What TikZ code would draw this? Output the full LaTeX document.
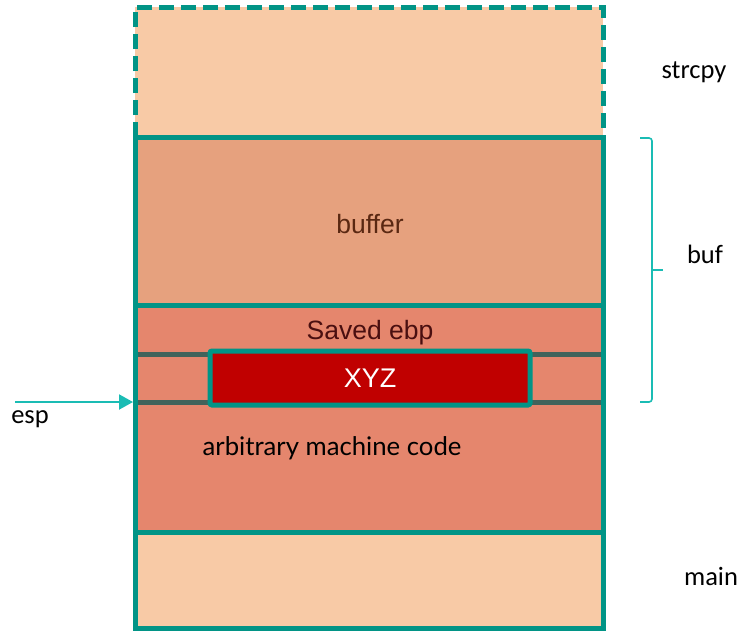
\documentclass[tikz,border=0pt]{standalone}
\usepackage{fontspec}
\setmainfont{Carlito}
\newfontfamily\arialfont{Liberation Sans}
\newfontfamily\latofont{Lato}
\usetikzlibrary{arrows.meta}

\definecolor{frameteal}{HTML}{019486}
\definecolor{lightpeach}{HTML}{F8CAA6}
\definecolor{bufferfill}{HTML}{E6A17E}
\definecolor{framefill}{HTML}{E5866D}
\definecolor{slotgray}{HTML}{41635B}
\definecolor{xyzred}{HTML}{C00000}
\definecolor{pointercyan}{HTML}{1ABCB4}
\definecolor{buffertext}{HTML}{5A2812}
\definecolor{ebptext}{HTML}{4A0F10}

\tikzset{
    stackline/.style = {draw = frameteal, line width = 5pt},
    slotline/.style  = {draw = slotgray, line width = 5pt},
    sidelabel/.style = {font = \fontsize{26.5}{30}\selectfont, inner sep = 0pt},
    boxlabel/.style  = {font = \arialfont\fontsize{26.5}{30}\selectfont, inner sep = 0pt},
    pointer/.style   = {draw = pointercyan, line width = 2pt,
                        -{Triangle[length = 14pt, width = 15pt]}},
    bracket/.style   = {draw = pointercyan, line width = 1.6pt, rounded corners = 3pt}
}

\begin{document}
\begin{tikzpicture}[x = 1pt, y = -1pt]
    \useasboundingbox (0,0) rectangle (743,630);

    % strcpy frame (dashed)
    \fill[lightpeach] (135,7) rectangle (603,137);
    \draw[stackline, dash pattern = on 15pt off 7pt] (135,137) -- (135,7) -- (603,7) -- (603,137);

    % buffer, saved ebp, return address, rest of frame
    \fill[bufferfill] (135,137) rectangle (603,305);
    \fill[framefill]  (135,305) rectangle (603,532);
    \fill[lightpeach] (135,532) rectangle (603,628);

    \draw[slotline] (135,354) -- (603,354);
    \draw[slotline] (135,402) -- (603,402);

    \draw[stackline] (135,305) -- (603,305);
    \draw[stackline] (135,532) -- (603,532);
    \draw[stackline] (135,137) rectangle (603,628);

    % overwritten return address
    \node[draw = frameteal, line width = 5pt, fill = xyzred, rounded corners = 2pt,
          minimum width = 320pt, minimum height = 54pt, inner sep = 0pt,
          text = white, font = \arialfont\fontsize{27}{30}\selectfont]
          (xyz) at (370,378) {XYZ};

    \node[boxlabel, text = buffertext] (bufferlbl) at (370,224) {buffer};
    \node[boxlabel, text = ebptext] (ebplbl) at (370,333) {Saved ebp};
    \node[font = \latofont\fontsize{25.7}{30}\selectfont, inner sep = 0pt]
          (codelbl) at (332,448) {arbitrary machine code};

    % side labels
    \node[sidelabel] (strcpylbl) at (694,72)  {strcpy};
    \node[sidelabel] (buflbl)    at (705,254) {buf};
    \node[sidelabel] (mainlbl)   at (711,576) {main};
    \node[sidelabel] (esplbl)    at (30,419)  {esp};

    % esp pointer
    \coordinate (esptail) at (15,402);
    \coordinate (esphead) at (133,402);
    \draw[pointer] (esptail) -- (esphead);

    % brace over buf
    \coordinate (bractop) at (640,138);
    \coordinate (bracbot) at (640,402);
    \coordinate (bracmid) at (652,270);
    \coordinate (bractip) at (663,270);
    \draw[bracket] (bractop) -- (652,138) -- (652,402) -- (bracbot);
    \draw[bracket] (bracmid) -- (bractip);
\end{tikzpicture}
\end{document}
